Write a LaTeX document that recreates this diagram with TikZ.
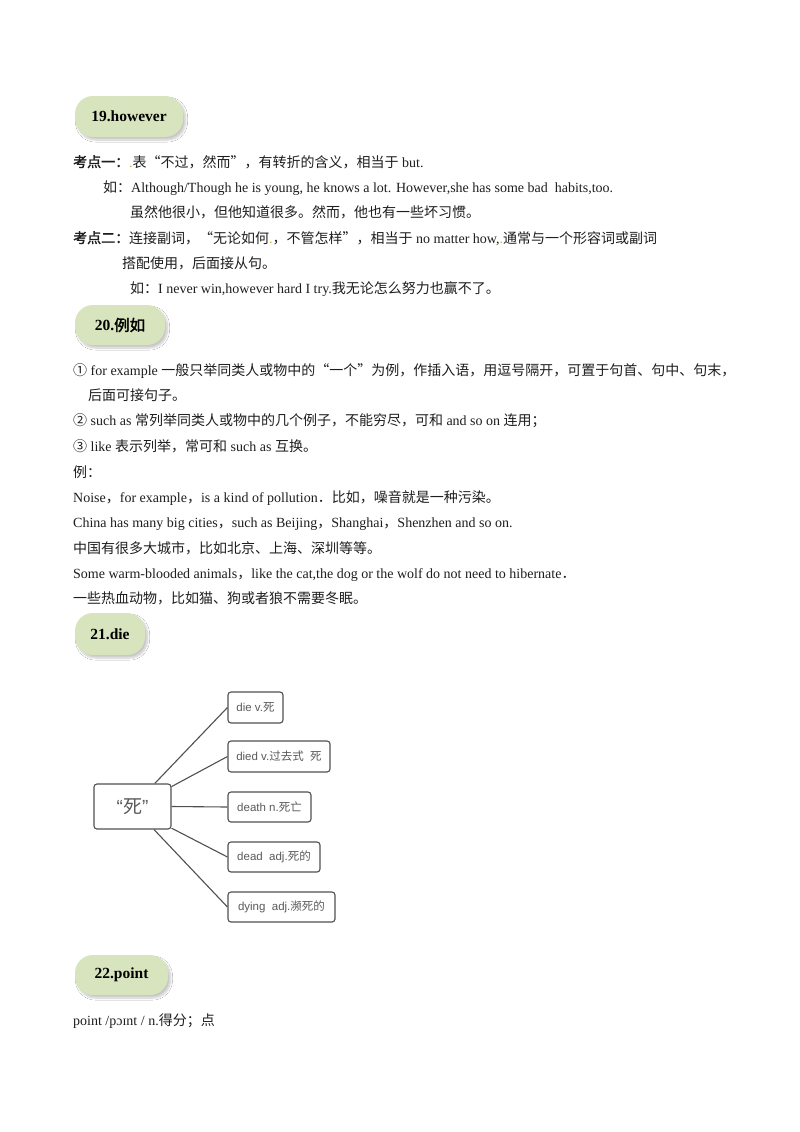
\documentclass[tikz,border=0pt]{standalone}
\usepackage{fontspec}
\setmainfont{Liberation Serif}
\newfontfamily\cjk{Noto Sans CJK SC}[AutoFakeBold=2]
\newfontfamily\sansf{Liberation Sans}
\usetikzlibrary{shadows.blur}
\newcommand\zh[1]{{\cjk #1}}
\definecolor{pillg}{RGB}{216,228,190}
\definecolor{txt}{RGB}{30,30,30}
\definecolor{dotc}{RGB}{200,180,40}
\definecolor{boxline}{RGB}{80,80,80}
\definecolor{boxtxt}{RGB}{90,90,90}
\begin{document}
\begin{tikzpicture}[x=1pt,y=-1pt,
  pill/.style={fill=pillg, rounded corners=18pt, minimum height=41pt, inner sep=0pt,
    font=\fontsize{15.5}{18}\selectfont\bfseries, text=black,
    blur shadow={shadow xshift=2.5pt, shadow yshift=-3pt, shadow opacity=22, shadow blur radius=2pt, shadow blur steps=10}},
  txtline/.style={anchor=base west, inner sep=0pt, font=\fontsize{14}{16}\selectfont, text=txt},
  cbox/.style={draw=boxline, line width=1.1pt, rounded corners=3pt, minimum height=31pt,
    inner sep=0pt, font=\sansf\fontsize{11.5}{13}\selectfont, text=boxtxt},
  conn/.style={draw=boxline, line width=1.1pt}]
\fill[white] (0,0) rectangle (800,1132);
\useasboundingbox (0,0) rectangle (800,1132);

% ---- 19
\node[pill, minimum width=108pt] (h19) at (129,116.5) {19.however};
\node[txtline] (l1) at (73,167) {\textbf{\zh{考点一：}}\textcolor{dotc}{.}\zh{表“不过，然而”，有转折的含义，相当于} but.};
\node[txtline] (l2) at (103,192) {\zh{如：}Although/Though he is young, he knows a lot. However,she has some bad\ \ habits,too.};
\node[txtline] (l3) at (130,217) {\zh{虽然他很小，但他知道很多。然而，他也有一些坏习惯。}};
\node[txtline] (l4) at (73,243) {\textbf{\zh{考点二：}}\zh{连接副词，“无论如何}\textcolor{dotc}{.}\zh{，不管怎样”，相当于} no matter how,\textcolor{dotc}{.}\zh{通常与一个形容词或副词}};
\node[txtline] (l5) at (122,268) {\zh{搭配使用，后面接从句。}};
\node[txtline] (l6) at (130,293) {\zh{如：}I never win,however hard I try.\zh{我无论怎么努力也赢不了。}};

% ---- 20
\node[pill, minimum width=90pt, minimum height=40pt] (h20) at (120,325) {20.\zh{例如}};
\node[txtline] (l7) at (73,375) {\zh{①} for example \zh{一般只举同类人或物中的“一个”为例，作插入语，用逗号隔开，可置于句首、句中、句末，}};
\node[txtline] (l8) at (88,400) {\zh{后面可接句子。}};
\node[txtline] (l9) at (73,425) {\zh{②} such as \zh{常列举同类人或物中的几个例子，不能穷尽，可和} and so on \zh{连用；}};
\node[txtline] (l10) at (73,451) {\zh{③} like \zh{表示列举，常可和} such as \zh{互换。}};
\node[txtline] (l11) at (73,477) {\zh{例：}};
\node[txtline] (l12) at (73,502) {Noise\zh{，}for example\zh{，}is a kind of pollution\zh{．}\zh{比如，噪音就是一种污染。}};
\node[txtline] (l13) at (73,527) {China has many big cities\zh{，}such as Beijing\zh{，}Shanghai\zh{，}Shenzhen and so on.};
\node[txtline] (l14) at (73,553) {\zh{中国有很多大城市，比如北京、上海、深圳等等。}};
\node[txtline] (l15) at (73,578) {Some warm-blooded animals\zh{，}like the cat,the dog or the wolf do not need to hibernate\zh{．}};
\node[txtline] (l16) at (73,603) {\zh{一些热血动物，比如猫、狗或者狼不需要冬眠。}};

% ---- 21
\node[pill, minimum width=70pt, minimum height=42pt] (h21) at (110,634) {21.die};

\node[cbox, minimum width=77pt, minimum height=45pt, font=\sansf\fontsize{19}{22}\selectfont] (c) at (132.5,806.5) {“\zh{死}”};
\node[cbox, minimum width=55pt] (b1) at (255.5,707.5) {die v.\zh{死}};
\node[cbox, minimum width=102pt] (b2) at (279,756.5) {died v.\zh{过去式}\ \ \zh{死}};
\node[cbox, minimum width=83pt, minimum height=30pt] (b3) at (269.5,807) {death n.\zh{死亡}};
\node[cbox, minimum width=92pt, minimum height=30pt] (b4) at (274,857) {dead\ \ adj.\zh{死的}};
\node[cbox, minimum width=107pt, minimum height=30pt] (b5) at (281.5,907) {dying\ \ adj.\zh{濒死的}};

\draw[conn] (c.46) -- (b1.west);
\draw[conn] (c.27) -- (b2.west);
\draw[conn] (c.east) -- (b3.west);
\draw[conn] (c.-29) -- (b4.west);
\draw[conn] (c.-47) -- (b5.west);

% ---- 22
\node[pill, minimum width=93pt, minimum height=40pt] (h22) at (121.5,975) {22.point};
\node[txtline] (l17) at (73,1025) {point /pɔɪnt / n.\zh{得分；点}};
\end{tikzpicture}
\end{document}
